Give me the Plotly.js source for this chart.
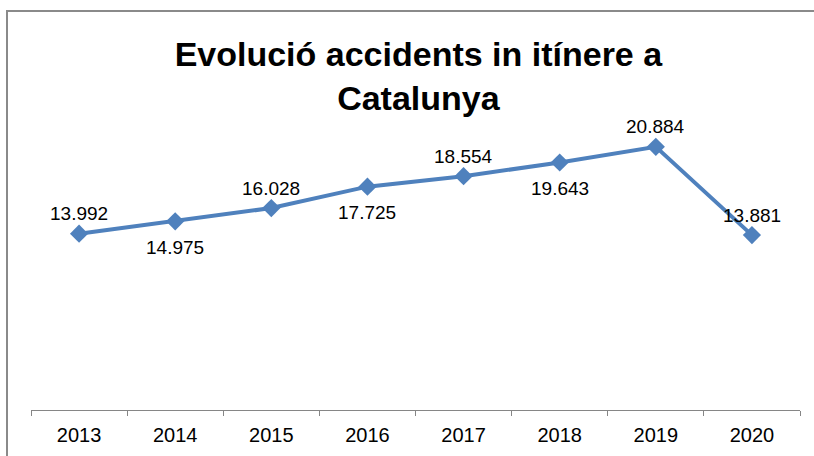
<!DOCTYPE html>
<html>
<head>
<meta charset="utf-8">
<script src="https://cdn.plot.ly/plotly-3.0.1.min.js"></script>
<style>
  html, body { margin: 0; padding: 0; background: #fff; }
  #wrap { position: relative; width: 814px; height: 456px; overflow: hidden; }
  #chart { width: 814px; height: 456px; }
  #frame { position: absolute; left: 6px; top: 10px; width: 830px; height: 470px;
           border: 2px solid #8a8a8a; box-sizing: border-box; pointer-events: none; }
</style>
</head>
<body>
<div id="wrap">
  <div id="chart"></div>
  <div id="frame"></div>
</div>
<script>
const years = ['2013', '2014', '2015', '2016', '2017', '2018', '2019', '2020'];
const accidents = [13.992, 14.975, 16.028, 17.725, 18.554, 19.643, 20.884, 13.881];
const labels = ['13.992', '14.975', '16.028', '17.725', '18.554', '19.643', '20.884', '13.881'];
const labelAbove = [true, false, true, false, true, false, true, true];

const FONT = 'Liberation Sans, Arial, sans-serif';

const trace = {
  x: years,
  y: accidents,
  type: 'scatter',
  mode: 'lines+markers',
  line: { color: '#4F81BD', width: 4 },
  marker: { symbol: 'diamond', size: 14, color: '#4F81BD' },
  cliponaxis: false,
  hoverinfo: 'skip'
};

// category axis: annotation x is the category index of each year
const annotations = years.map((yr, i) => ({
  x: i,
  y: accidents[i],
  xref: 'x', yref: 'y',
  text: labels[i],
  showarrow: false,
  xanchor: 'center', yanchor: 'middle',
  yshift: labelAbove[i] ? 20 : -26,
  font: { family: FONT, size: 19, color: '#000' }
}));

const layout = {
  width: 814,
  height: 456,
  margin: { l: 31, r: 14, t: 95, b: 46 },
  paper_bgcolor: '#fff',
  plot_bgcolor: '#fff',
  showlegend: false,
  title: {
    text: 'Evolució accidents in itínere a<br>Catalunya',
    font: { family: FONT, size: 34, color: '#000', weight: 'bold' },
    xref: 'container', x: 0.514, xanchor: 'center',
    yref: 'container', y: 0.855, yanchor: 'middle'
  },
  xaxis: {
    type: 'category',
    range: [-0.5, 7.5],
    showline: true, linecolor: '#868686', linewidth: 1,
    ticks: 'outside', tickson: 'boundaries', ticklen: 5, tickcolor: '#868686',
    tickfont: { family: FONT, size: 20, color: '#000' },
    ticklabelstandoff: 7,
    showgrid: false, zeroline: false, fixedrange: true
  },
  yaxis: {
    range: [0, 25],
    showline: false, showticklabels: false, ticks: '',
    showgrid: false, zeroline: false, fixedrange: true
  },
  annotations: annotations
};

Plotly.newPlot('chart', [trace], layout, { displayModeBar: false, staticPlot: true });
</script>
</body>
</html>
